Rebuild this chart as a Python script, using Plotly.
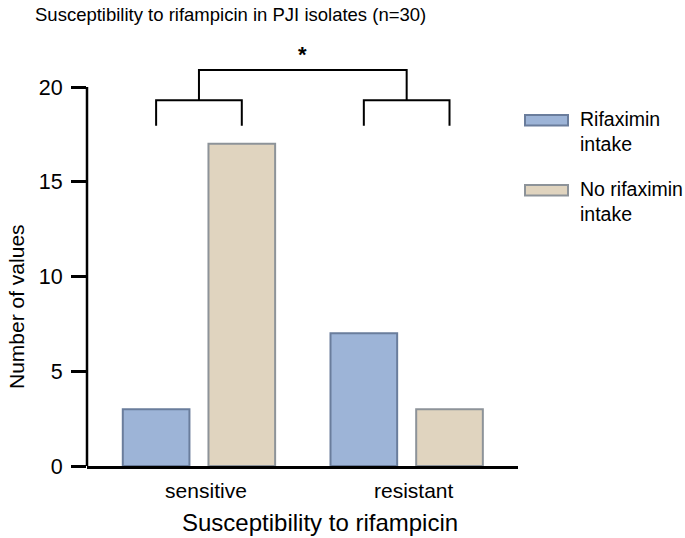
import plotly.graph_objects as go

categories = ["sensitive", "resistant"]
rifaximin_intake = [3, 7]
no_rifaximin_intake = [17, 3]
series_names = ["Rifaximin<br>intake", "No rifaximin<br>intake"]
y_ticks = [0, 5, 10, 15, 20]

FONT = "Liberation Sans, Arial, sans-serif"
BLUE, BLUE_EDGE = "#9db4d7", "#6a7d9c"
BEIGE, BEIGE_EDGE = "#e0d4bf", "#8d9399"

W, H = 685, 538
ML, MT = 87, 40
MR = W - 518
MB = H - 466
pw, ph = W - ML - MR, H - MT - MB

fig = go.Figure()
fig.add_trace(go.Bar(x=categories, y=rifaximin_intake, name="Rifaximin intake",
                     marker=dict(color=BLUE, line=dict(color=BLUE_EDGE, width=2)),
                     showlegend=False))
fig.add_trace(go.Bar(x=categories, y=no_rifaximin_intake, name="No rifaximin intake",
                     marker=dict(color=BEIGE, line=dict(color=BEIGE_EDGE, width=2)),
                     showlegend=False))

bargap, bargroupgap = 0.175, 0.222
half = (1 - bargap) / 4  # offset of each bar centre from category centre

shapes = []
line = dict(color="black", width=2)
# y axis line from 0 to 20 only
shapes.append(dict(type="line", xref="paper", yref="y", x0=0, x1=0, y0=0, y1=max(y_ticks),
                   line=dict(color="black", width=2.5)))
# lower brackets
yb_low, yb_mid, yb_top = 17.95, 19.3, 20.9
for i in range(len(categories)):
    xl, xr = i - half, i + half
    shapes.append(dict(type="path", xref="x", yref="y",
                       path=f"M {xl},{yb_low} L {xl},{yb_mid} L {xr},{yb_mid} L {xr},{yb_low}",
                       line=line))
# top bracket
shapes.append(dict(type="path", xref="x", yref="y",
                   path=f"M 0,{yb_mid} L 0,{yb_top} L 1,{yb_top} L 1,{yb_mid}", line=line))

# helpers: page pixels -> paper coords
def px2x(px):
    return (px - ML) / pw
def py2y(py):
    return (H - MB - py) / ph

annotations = []
leg_colors = [(BLUE, BLUE_EDGE), (BEIGE, BEIGE_EDGE)]
for k, (name, (fc, ec)) in enumerate(zip(series_names, leg_colors)):
    top = 115 + k * 70
    shapes.append(dict(type="rect", xref="paper", yref="paper",
                       x0=px2x(525), x1=px2x(568), y0=py2y(top + 10.5), y1=py2y(top),
                       fillcolor=fc, line=dict(color=ec, width=2)))
    annotations.append(dict(xref="paper", yref="paper", x=px2x(578), y=py2y(top - 9),
                            xanchor="left", yanchor="top", align="left", showarrow=False,
                            text=name, font=dict(size=19.5, color="black", family=FONT)))

annotations.append(dict(xref="x", yref="y", x=0.5, y=21.7, text="<b>*</b>", showarrow=False,
                        font=dict(size=22, color="black", family=FONT)))
annotations.append(dict(xref="paper", yref="paper", x=px2x(320), y=py2y(522),
                        text="Susceptibility to rifampicin", showarrow=False,
                        xanchor="center", yanchor="middle",
                        font=dict(size=24, color="black", family=FONT)))
annotations.append(dict(xref="paper", yref="paper", x=px2x(16), y=py2y(307),
                        text="Number of values", showarrow=False, textangle=-90,
                        xanchor="center", yanchor="middle",
                        font=dict(size=21, color="black", family=FONT)))

fig.update_layout(
    width=W, height=H,
    margin=dict(l=ML, r=MR, t=MT, b=MB),
    paper_bgcolor="white", plot_bgcolor="white",
    barmode="group", bargap=bargap, bargroupgap=bargroupgap,
    font=dict(family=FONT, color="black"),
    title=dict(text="Susceptibility to rifampicin in PJI isolates (n=30)",
               x=35 / W, xref="container", xanchor="left",
               y=1 - 15 / H, yref="container", yanchor="middle",
               font=dict(size=18.5, color="black", family=FONT)),
    shapes=shapes, annotations=annotations,
    xaxis=dict(type="category", range=[-0.539, 1.536], showline=True, linecolor="black",
               linewidth=2.5, ticks="", showgrid=False, zeroline=False,
               tickfont=dict(size=21, color="black"), ticklabelstandoff=4,
               ticklabelshift=7),
    yaxis=dict(range=[0, 22.48], tickvals=y_ticks, showline=False, ticks="outside",
               ticklen=15, tickwidth=2.5, tickcolor="black", showgrid=False, zeroline=False,
               tickfont=dict(size=21.5, color="black"), ticklabelstandoff=4),
)

fig.write_html("out.html", config={"displayModeBar": False},
               post_script="document.body.style.margin='0';document.body.style.overflow='hidden';")
